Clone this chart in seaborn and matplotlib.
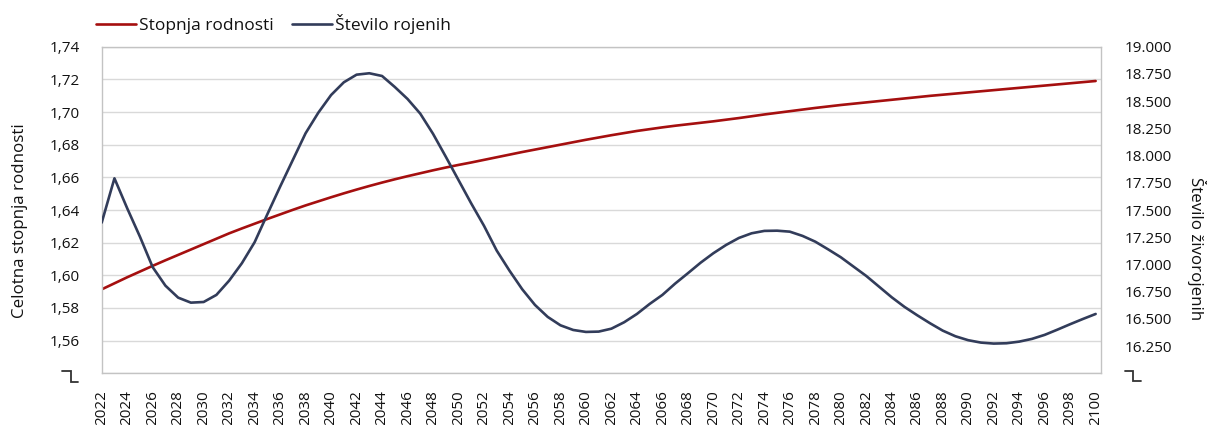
import matplotlib
matplotlib.use("Agg")
import matplotlib.pyplot as plt
from matplotlib.lines import Line2D
from matplotlib.ticker import FixedLocator, FuncFormatter, MultipleLocator
import seaborn as sns
import numpy as np

# ---- data ----
years = list(range(2022, 2101))

fertility_rate = [
    1.5914, 1.5951, 1.5988, 1.6023, 1.6058, 1.6092, 1.6125, 1.6158, 1.6191, 1.6224,
    1.6257, 1.6287, 1.6316, 1.6345, 1.6373, 1.6401, 1.6428, 1.6453, 1.6478, 1.6502,
    1.6525, 1.6547, 1.6568, 1.6588, 1.6607, 1.6625, 1.6643, 1.6660, 1.6676, 1.6691,
    1.6707, 1.6723, 1.6739, 1.6755, 1.6770, 1.6785, 1.6800, 1.6815, 1.6830, 1.6844,
    1.6858, 1.6871, 1.6884, 1.6895, 1.6906, 1.6916, 1.6925, 1.6934, 1.6943, 1.6953,
    1.6963, 1.6974, 1.6985, 1.6995, 1.7005, 1.7015, 1.7025, 1.7034, 1.7043, 1.7051,
    1.7059, 1.7067, 1.7075, 1.7083, 1.7091, 1.7099, 1.7106, 1.7113, 1.7120, 1.7127,
    1.7134, 1.7141, 1.7148, 1.7155, 1.7162, 1.7169, 1.7176, 1.7183, 1.7190,
]

births = [
    17384, 17791, 17516, 17255, 16975, 16805, 16695, 16649, 16655, 16720,
    16851, 17011, 17204, 17461, 17714, 17960, 18205, 18394, 18556, 18673,
    18743, 18756, 18731, 18630, 18520, 18385, 18200, 17990, 17775, 17560,
    17355, 17127, 16943, 16772, 16628, 16518, 16441, 16398, 16380, 16383,
    16410, 16469, 16545, 16637, 16720, 16824, 16919, 17016, 17103, 17179,
    17243, 17286, 17308, 17310, 17301, 17262, 17209, 17139, 17066, 16980,
    16894, 16796, 16698, 16610, 16533, 16460, 16392, 16340, 16304, 16282,
    16273, 16276, 16291, 16316, 16353, 16401, 16451, 16499, 16545,
]

series_names = ["Stopnja rodnosti", "Število rojenih"]
left_label = "Celotna stopnja rodnosti"
right_label = "Število živorojenih"

left_ticks = [1.54, 1.56, 1.58, 1.60, 1.62, 1.64, 1.66, 1.68, 1.70, 1.72, 1.74]
right_ticks = list(range(16000, 19001, 250))

# ---- style ----
sns.set_style("white")
plt.rcParams["font.family"] = ["Open Sans", "DejaVu Sans"]
FS = 11          # tick labels
FS_LAB = 12.2    # axis titles
FS_LEG = 12.5    # legend

RED = "#A50F0F"
NAVY = "#323C5A"
GRID = "#D9D9D9"
SPINE = "#C3C3C3"
TXT = "#111111"

W, H = 1207, 425
fig = plt.figure(figsize=(W / 100, H / 100), dpi=100)
L, R, T, B = 101.7, 1101, 46.7, 373.3
ax = fig.add_axes([L / W, 1 - B / H, (R - L) / W, (B - T) / H])
ax2 = ax.twinx()

sns.lineplot(x=years, y=fertility_rate, ax=ax, color=RED, linewidth=1.9,
             label=series_names[0], legend=False)
sns.lineplot(x=years, y=births, ax=ax2, color=NAVY, linewidth=1.9,
             label=series_names[1], legend=False)

ax.set_xlim(2022, 2100.42)
ax.set_ylim(1.54, 1.74)
ax2.set_ylim(16000, 19000)

# y ticks
ax.yaxis.set_major_locator(FixedLocator(left_ticks))
ax.yaxis.set_major_formatter(FuncFormatter(
    lambda v, p: "" if abs(v - 1.54) < 1e-6 else f"{v:.2f}".replace(".", ",")))
ax2.yaxis.set_major_locator(FixedLocator(right_ticks))
ax2.yaxis.set_major_formatter(FuncFormatter(
    lambda v, p: "" if v < 16100 else f"{int(round(v)):,}".replace(",", ".")))
ax.tick_params(axis="y", length=0, pad=16, labelcolor=TXT, labelsize=FS)
ax2.tick_params(axis="y", length=0, pad=17, labelcolor=TXT, labelsize=FS)

# x ticks
ax.xaxis.set_major_locator(MultipleLocator(1))
ax.xaxis.set_major_formatter(FuncFormatter(
    lambda v, p: str(int(round(v))) if int(round(v)) % 2 == 0 else ""))
ax.tick_params(axis="x", direction="out", length=5, width=1, color=SPINE,
               pad=7, labelrotation=90, labelcolor=TXT, labelsize=FS)
ax2.tick_params(axis="x", length=0)

# grid & spines
ax.grid(axis="y", color=GRID, linewidth=1)
ax.grid(axis="x", visible=False)
ax2.grid(False)
ax.set_axisbelow(True)
for s in ax.spines.values():
    s.set_color(SPINE)
    s.set_linewidth(1)
    s.set_visible(True)
for s in ax2.spines.values():
    s.set_visible(False)

ax.set_xlabel("")
ax.set_ylabel(left_label, color=TXT, fontsize=FS_LAB)
ax.yaxis.label.set_verticalalignment("center")
ax.yaxis.set_label_coords((20 - L) / (R - L), (B - 221) / (B - T))
ax2.set_ylabel(right_label, color=TXT, fontsize=FS_LAB, rotation=-90)
ax2.yaxis.label.set_verticalalignment("center")
ax2.yaxis.set_label_coords((1197 - L) / (R - L), (B - 249) / (B - T))

# axis break glyphs
def glyph(pts):
    xs = [p[0] / W for p in pts]
    ys = [1 - p[1] / H for p in pts]
    fig.add_artist(Line2D(xs, ys, transform=fig.transFigure, color="#333333",
                          linewidth=1.3, solid_joinstyle="miter"))

glyph([(61.7, 371), (70.7, 371), (70.7, 381.7), (78.3, 381.7)])
glyph([(1125, 370.7), (1133, 370.7), (1133, 381), (1141, 381)])

# legend
handles = [Line2D([], [], color=RED, linewidth=1.9),
           Line2D([], [], color=NAVY, linewidth=1.9)]
fig.legend(handles, series_names, loc="upper left",
           bbox_to_anchor=(96 / W, 1 - 14 / H), ncol=2, frameon=False,
           handlelength=2.3, handletextpad=0.18, columnspacing=1.05,
           borderpad=0, borderaxespad=0, fontsize=FS_LEG, labelcolor=TXT)

fig.savefig("out.png", dpi=100)
